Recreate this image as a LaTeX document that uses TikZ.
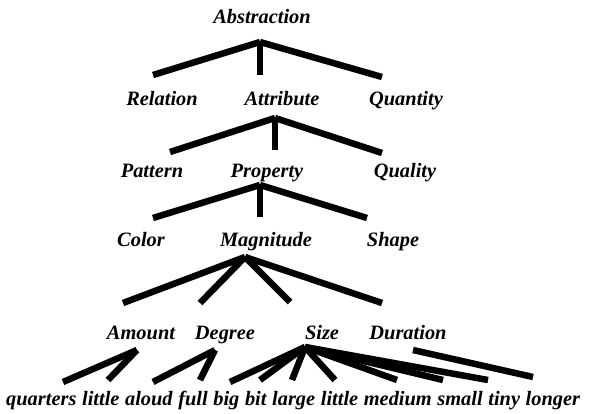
\documentclass[tikz,border=0pt]{standalone}
\usepackage{fontspec}
\setmainfont{Liberation Serif}
\begin{document}
\begin{tikzpicture}[x=1pt,y=-1pt,
  lbl/.style={font=\fontsize{20.4}{24}\selectfont\bfseries\itshape, inner sep=0pt, anchor=base},
  word/.style={lbl, anchor=base west},
  edge/.style={line width=6.5pt}]
\useasboundingbox (0,0) rectangle (596,414);
% labels
\node[lbl] (abstraction) at (262,24) {Abstraction};
\node[lbl] (relation) at (162,106) {Relation};
\node[lbl] (attribute) at (282,106) {Attribute};
\node[lbl] (quantity) at (406,106) {Quantity};
\node[lbl] (pattern) at (152,177) {Pattern};
\node[lbl] (property) at (267,177) {Property};
\node[lbl] (quality) at (405,177) {Quality};
\node[lbl] (color) at (141,246) {Color};
\node[lbl] (magnitude) at (266,246) {Magnitude};
\node[lbl] (shape) at (393,246) {Shape};
\node[lbl] (amount) at (141,339) {Amount};
\node[lbl] (degree) at (225,339) {Degree};
\node[lbl] (size) at (322,339) {Size};
\node[lbl] (duration) at (408,339) {Duration};
% bottom words
\node[word] (w1) at (6,405) {quarters};
\node[word] (w2) at ([xshift=5.2pt]w1.base east) {little};
\node[word] (w3) at ([xshift=5.2pt]w2.base east) {aloud};
\node[word] (w4) at ([xshift=5.2pt]w3.base east) {full};
\node[word] (w5) at ([xshift=5.2pt]w4.base east) {big};
\node[word] (w6) at ([xshift=5.2pt]w5.base east) {bit};
\node[word] (w7) at ([xshift=5.2pt]w6.base east) {large};
\node[word] (w8) at ([xshift=5.2pt]w7.base east) {little};
\node[word] (w9) at ([xshift=5.2pt]w8.base east) {medium};
\node[word] (w10) at ([xshift=5.2pt]w9.base east) {small};
\node[word] (w11) at ([xshift=5.2pt]w10.base east) {tiny};
\node[word] (w12) at ([xshift=5.2pt]w11.base east) {longer};
% connector points
\coordinate (abstraction-b) at (260,42);
\coordinate (relation-t) at (153,75);
\coordinate (attribute-t) at (260,75);
\coordinate (quantity-t) at (382,77);
\coordinate (attribute-b) at (275,118);
\coordinate (pattern-t) at (170,152);
\coordinate (property-t) at (275,150);
\coordinate (quality-t) at (382,153);
\coordinate (property-b) at (260,185);
\coordinate (color-t) at (153,218);
\coordinate (magnitude-t) at (260,217);
\coordinate (shape-t) at (367,218);
\coordinate (magnitude-b) at (245,257);
\coordinate (amount-t) at (123,303);
\coordinate (degree-t) at (200,303);
\coordinate (size-t) at (290,302);
\coordinate (duration-t) at (382,303);
\coordinate (amount-b) at (137,350);
\coordinate (degree-b) at (215,350);
\coordinate (size-b) at (305,347);
\coordinate (duration-b) at (413,350);
\coordinate (w1-t) at (63,382);
\coordinate (w2-t) at (108,380);
\coordinate (w3-t) at (153,382);
\coordinate (w4-t) at (200,380);
\coordinate (w5-t) at (230,382);
\coordinate (w6-t) at (260,380);
\coordinate (w7-t) at (292,380);
\coordinate (w8-t) at (335,380);
\coordinate (w9-t) at (397,380);
\coordinate (w10-t) at (443,380);
\coordinate (w11-t) at (488,380);
\coordinate (w12-t) at (533,377);
% connectors
\draw[edge] (abstraction-b) -- (relation-t);
\draw[edge] (abstraction-b) -- (attribute-t);
\draw[edge] (abstraction-b) -- (quantity-t);
\draw[edge] (attribute-b) -- (pattern-t);
\draw[edge] (attribute-b) -- (property-t);
\draw[edge] (attribute-b) -- (quality-t);
\draw[edge] (property-b) -- (color-t);
\draw[edge] (property-b) -- (magnitude-t);
\draw[edge] (property-b) -- (shape-t);
\draw[edge] (magnitude-b) -- (amount-t);
\draw[edge] (magnitude-b) -- (degree-t);
\draw[edge] (magnitude-b) -- (size-t);
\draw[edge] (magnitude-b) -- (duration-t);
\draw[edge] (amount-b) -- (w1-t);
\draw[edge] (amount-b) -- (w2-t);
\draw[edge] (degree-b) -- (w3-t);
\draw[edge] (degree-b) -- (w4-t);
\foreach \w in {w5,w6,w7,w8,w9,w10,w11}{\draw[edge] (size-b) -- (\w-t);}
\draw[edge] (duration-b) -- (w12-t);
\end{tikzpicture}
\end{document}
